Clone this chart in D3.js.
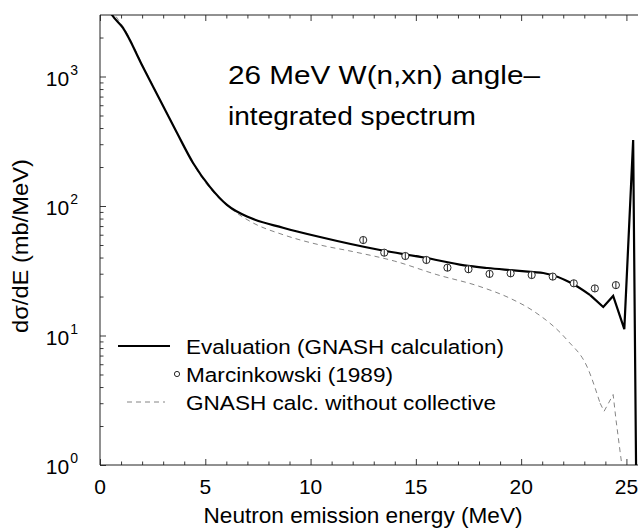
<!DOCTYPE html>
<html><head><meta charset="utf-8">
<script src="https://cdn.jsdelivr.net/npm/d3@7"></script>
<style>
html,body{margin:0;padding:0;background:#fff;}
svg{display:block;font-family:"Liberation Sans",Arial,Helvetica,sans-serif;}
</style></head>
<body><svg id="c" width="638" height="529"></svg>
<script>
// ---- data ----
const evalE   = [0.2, 0.57, 1.09, 2.04, 2.85, 3.66, 4.42, 5.23, 6.03, 7.13, 8.69, 10.45, 13.3, 15.4, 17.3, 18.4, 19.5, 20.6, 21.05, 22.38, 23.28, 23.9, 24.37, 24.9, 25.32, 25.46];
const evalV   = [3800, 2985, 2370, 1183, 658, 366, 215, 140, 102, 81, 68, 57.6, 45.7, 40, 34.8, 33.2, 32, 30.9, 30.4, 25.4, 20.5, 16.6, 20.2, 11.2, 323, 0.9];
const noCollE = [0.3, 0.71, 1.15, 2.1, 2.9, 3.7, 4.45, 5.25, 6.18, 7.2, 8.7, 10.45, 12, 14, 16, 18, 19.5, 20.57, 22.19, 23.14, 23.75, 23.94, 24.37, 24.51, 24.8];
const noCollV = [3800, 2985, 2350, 1150, 640, 355, 208, 135, 96.5, 75, 60, 50, 44.5, 37.5, 29.5, 24, 19.3, 15.5, 9.2, 5.7, 3.0, 2.6, 3.5, 2.2, 0.95];
const expE    = [12.5, 13.5, 14.5, 15.5, 16.5, 17.5, 18.5, 19.5, 20.5, 21.5, 22.5, 23.5, 24.5];
const expV    = [54.6, 43.6, 41.1, 38.3, 33.4, 32.5, 29.9, 30.2, 29.3, 28.5, 25.3, 23.1, 24.5];
const expErr  = [0.06, 0.06, 0.06, 0.06, 0.06, 0.06, 0.06, 0.06, 0.06, 0.06, 0.06, 0.06, 0.06];
const xMajorTicks = [0, 5, 10, 15, 20, 25];
const yMajorExp = [0, 1, 2, 3];
const legendLabels = ["Evaluation (GNASH calculation)", "Marcinkowski (1989)", "GNASH calc. without collective"];
const titleLines = ["26 MeV W(n,xn) angle\u2013", "integrated spectrum"];
const xTitle = "Neutron emission energy (MeV)";
const yTitle = "d\u03c3/dE (mb/MeV)";

// ---- layout ----
const L = 100, R = 638, T = 15, B = 465;
const svg = d3.select("#c");
const x = d3.scaleLinear().domain([0, 25.55]).range([L, R]);
const y = d3.scaleLog().domain([1, 2985]).range([B, T]);

svg.append("defs").append("clipPath").attr("id","clip")
  .append("rect").attr("x",L).attr("y",T).attr("width",R-L+10).attr("height",B-T);

// ticks
const xMinor = d3.range(0, 26, 1).filter(v => v % 5 !== 0);
function xTicks(axisFn, ypos){
  [[xMajorTicks, 6], [xMinor, 3.5]].forEach(([vals, len]) => {
    svg.append("g").attr("transform",`translate(0,${ypos})`)
      .call(axisFn(x).tickValues(vals).tickSize(-len).tickFormat(""))
      .call(g=>g.select(".domain").remove())
      .call(g=>g.selectAll("line").attr("stroke","#222").attr("stroke-width",0.9));
  });
}
xTicks(d3.axisBottom, B);
xTicks(d3.axisTop, T);

const yMajor = yMajorExp.map(e => Math.pow(10, e));
const yMinor = [];
for (let e = 0; e < 4; e++) for (let k = 2; k <= 9; k++) { const v = k*Math.pow(10,e); if (v < 2985) yMinor.push(v); }
[[yMajor, 6], [yMinor, 3.5]].forEach(([vals, len]) => {
  svg.append("g").attr("transform",`translate(${L},0)`)
    .call(d3.axisLeft(y).tickValues(vals).tickSize(-len).tickFormat(""))
    .call(g=>g.select(".domain").remove())
    .call(g=>g.selectAll("line").attr("stroke","#222").attr("stroke-width",0.9));
});

// frame
svg.append("path").attr("d",`M${R},${T}H${L}V${B}H${R}`)
  .attr("fill","none").attr("stroke","#222").attr("stroke-width",1);

// x tick labels
svg.append("g").selectAll("text").data(xMajorTicks).join("text")
  .attr("x", d => x(d)).attr("y", B + 29)
  .attr("text-anchor","middle").attr("font-size",21).attr("fill","#000")
  .text(d => d);

// y tick labels
const yl = svg.append("g").selectAll("text").data(yMajorExp).join("text")
  .attr("x", 78).attr("y", d => y(Math.pow(10,d)) + 9)
  .attr("text-anchor","end").attr("font-size",21).attr("fill","#000");
yl.append("tspan").text("10");
yl.append("tspan").attr("font-size",14).attr("dy",-11).attr("dx",1).text(d => d);

// axis titles
svg.append("text").attr("x", 363).attr("y", 523).attr("text-anchor","middle")
  .attr("font-size",22).attr("textLength",319).attr("lengthAdjust","spacingAndGlyphs")
  .text(xTitle);
svg.append("text").attr("transform","translate(28,246) rotate(-90)").attr("text-anchor","middle")
  .attr("font-size",22).attr("textLength",174).attr("lengthAdjust","spacingAndGlyphs")
  .text(yTitle);

// chart title
const titleW = [312, 248];
svg.append("g").selectAll("text").data(titleLines).join("text")
  .attr("x", 228).attr("y", (d,i) => 84 + i*41)
  .attr("font-size",25.5).attr("textLength",(d,i)=>titleW[i]).attr("lengthAdjust","spacingAndGlyphs")
  .text(d => d);

// curves
const plot = svg.append("g").attr("clip-path","url(#clip)");
const smooth = d3.line().x(d => x(d[0])).y(d => y(d[1])).curve(d3.curveMonotoneX);
const sharp = d3.line().x(d => x(d[0])).y(d => y(d[1]));
const noColl = noCollE.map((e,i)=>[e,noCollV[i]]);
const evalPts = evalE.map((e,i)=>[e,evalV[i]]);
const splitN = noCollE.indexOf(23.75), splitE = evalE.indexOf(23.28);
const dashStyle = p => p.attr("fill","none").attr("stroke","#777").attr("stroke-width",0.9).attr("stroke-dasharray","5,4");
const solidStyle = p => p.attr("fill","none").attr("stroke","#000").attr("stroke-width",2.2).attr("stroke-linejoin","miter");
plot.append("path").attr("d", smooth(noColl.slice(0, splitN+1))).call(dashStyle);
plot.append("path").attr("d", sharp(noColl.slice(splitN))).call(dashStyle);
plot.append("path").attr("d", smooth(evalPts.slice(0, splitE+1))).call(solidStyle);
plot.append("path").attr("d", sharp(evalPts.slice(splitE))).call(solidStyle);

// experimental points
const pts = plot.append("g").selectAll("g").data(expE.map((e,i)=>({e, v:expV[i], err:expErr[i]}))).join("g");
pts.append("circle").attr("cx", d => x(d.e)).attr("cy", d => y(d.v)).attr("r",3.6)
  .attr("fill","#fff").attr("stroke","#111").attr("stroke-width",0.9);
pts.append("line").attr("x1", d => x(d.e)).attr("x2", d => x(d.e))
  .attr("y1", d => y(d.v*(1+d.err))).attr("y2", d => y(d.v*(1-d.err)))
  .attr("stroke","#111").attr("stroke-width",0.9);

// legend
const legY = [347, 375, 403];
const legW = [318, 207, 310];
svg.append("line").attr("x1",118).attr("x2",170).attr("y1",legY[0]-1).attr("y2",legY[0]-1)
  .attr("stroke","#000").attr("stroke-width",2.2);
svg.append("circle").attr("cx",177).attr("cy",legY[1]-1).attr("r",2.6)
  .attr("fill","#fff").attr("stroke","#111").attr("stroke-width",0.9);
svg.append("line").attr("x1",127).attr("x2",165).attr("y1",legY[2]-1).attr("y2",legY[2]-1)
  .attr("stroke","#777").attr("stroke-width",0.9).attr("stroke-dasharray","5,4");
svg.append("g").selectAll("text").data(legendLabels).join("text")
  .attr("x", 186).attr("y", (d,i) => legY[i] + 7)
  .attr("font-size",20.5).attr("textLength",(d,i)=>legW[i]).attr("lengthAdjust","spacingAndGlyphs")
  .text(d => d);
</script></body></html>
